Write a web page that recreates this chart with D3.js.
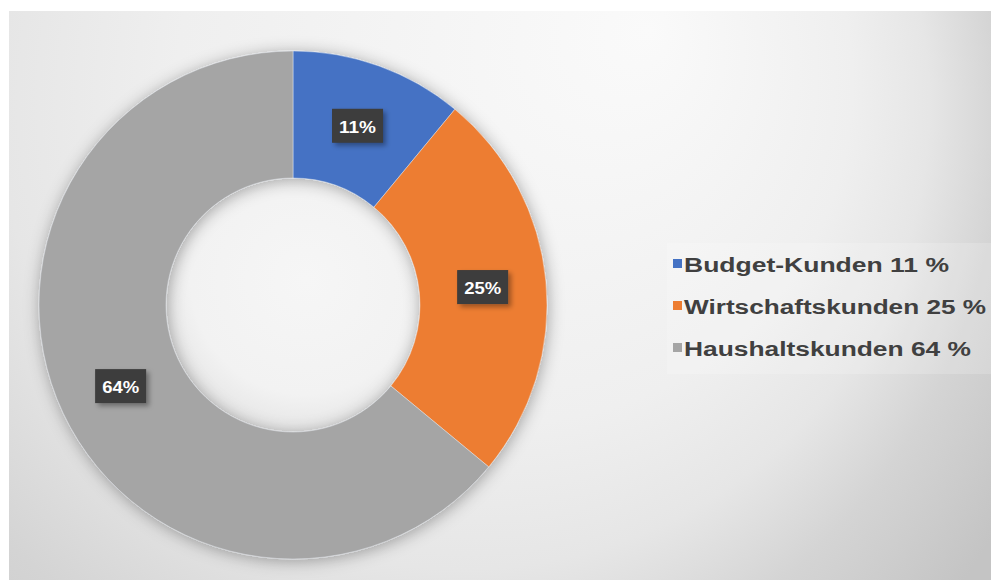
<!DOCTYPE html>
<html>
<head>
<meta charset="utf-8">
<script src="https://cdn.jsdelivr.net/npm/d3@7"></script>
<style>
  html, body { margin: 0; padding: 0; background: #ffffff; }
  svg { display: block; }
</style>
</head>
<body>
<svg id="chart" width="991" height="580"></svg>
<script>
// Customer segments and their share in percent
const categories = ["Budget-Kunden", "Wirtschaftskunden", "Haushaltskunden"];
const shares = [11, 25, 64];
const sliceColors = ["#4472c4", "#ed7d31", "#a5a5a5"];

const W = 991, H = 580;
const svg = d3.select("#chart");
const defs = svg.append("defs");

// Plot-area background: soft radial light, brightest near the upper middle
const bg = defs.append("radialGradient")
  .attr("id", "bgGrad")
  .attr("gradientUnits", "userSpaceOnUse")
  .attr("cx", 350).attr("cy", 150).attr("r", 750)
  .attr("fx", 650).attr("fy", 30);
[[0, "#fafafa"], [0.45, "#efefef"], [0.62, "#e6e6e6"], [0.78, "#d4d4d4"], [1, "#c4c4c4"]]
  .forEach(([o, c]) => bg.append("stop").attr("offset", o).attr("stop-color", c));

// Centre of the ring
const hole = defs.append("radialGradient").attr("id", "holeGrad")
  .attr("cx", "0.55").attr("cy", "0.4").attr("r", "0.6");
[[0, "#f6f6f6"], [0.75, "#f2f2f2"], [1, "#e6e6e6"]]
  .forEach(([o, c]) => hole.append("stop").attr("offset", o).attr("stop-color", c));

// Soft glow around the ring
const glow = defs.append("filter").attr("id", "ringShadow")
  .attr("x", "-20%").attr("y", "-20%").attr("width", "140%").attr("height", "140%");
glow.append("feDropShadow").attr("dx", 1).attr("dy", 2)
  .attr("stdDeviation", 8).attr("flood-color", "#000").attr("flood-opacity", 0.33);

// Shadow under the value boxes
const boxShadow = defs.append("filter").attr("id", "boxShadow")
  .attr("x", "-30%").attr("y", "-30%").attr("width", "170%").attr("height", "180%");
boxShadow.append("feDropShadow").attr("dx", 3).attr("dy", 3)
  .attr("stdDeviation", 2.5).attr("flood-color", "#000").attr("flood-opacity", 0.35);

svg.append("rect")
  .attr("x", 9).attr("y", 11).attr("width", W - 9).attr("height", H - 11)
  .attr("fill", "url(#bgGrad)");

// Donut
const cx = 293, cy = 305, rOuter = 254, rInner = 127;
const pie = d3.pie().sort(null).value(d => d.value);
const arcs = pie(categories.map((c, i) => ({ name: c, value: shares[i], color: sliceColors[i] })));
const arc = d3.arc().innerRadius(rInner).outerRadius(rOuter);
const labelArc = d3.arc().innerRadius((rInner + rOuter) / 2).outerRadius((rInner + rOuter) / 2);

const g = svg.append("g").attr("transform", `translate(${cx},${cy})`);

g.append("circle").attr("r", rInner + 1).attr("fill", "url(#holeGrad)");

g.append("g").attr("filter", "url(#ringShadow)")
  .selectAll("path").data(arcs).join("path")
  .attr("d", arc)
  .attr("fill", d => d.data.color)
  .attr("stroke", "#e9eef5")
  .attr("stroke-opacity", 0.45)
  .attr("stroke-width", 1);

// Value boxes
const labels = g.selectAll("g.lbl").data(arcs).join("g")
  .attr("class", "lbl")
  .attr("transform", d => `translate(${labelArc.centroid(d)})`);

labels.append("rect")
  .attr("x", -25.5).attr("y", -17).attr("width", 51).attr("height", 34)
  .attr("fill", "#3c3c3c")
  .attr("filter", "url(#boxShadow)");

labels.append("text")
  .attr("text-anchor", "middle")
  .attr("y", 7)
  .attr("font-family", "Liberation Sans, Arial, sans-serif")
  .attr("font-weight", "bold")
  .attr("font-size", 17)
  .attr("fill", "#ffffff")
  .attr("textLength", 37)
  .attr("lengthAdjust", "spacingAndGlyphs")
  .text(d => `${d.data.value}%`);

// Legend
const legendX = 667, legendY = 243;
svg.append("rect")
  .attr("x", legendX).attr("y", legendY).attr("width", W - legendX).attr("height", 131)
  .attr("fill", "#ffffff").attr("fill-opacity", 0.18);

const legendWidths = [265, 302, 287];
const rowY = d3.scalePoint().domain(categories).range([264, 348]);

const rows = svg.selectAll("g.leg").data(arcs).join("g")
  .attr("class", "leg")
  .attr("transform", d => `translate(${legendX + 6},${rowY(d.data.name)})`);

rows.append("rect")
  .attr("x", 0).attr("y", -5).attr("width", 9).attr("height", 9)
  .attr("fill", d => d.data.color);

rows.append("text")
  .attr("x", 11).attr("y", 7.5)
  .attr("font-family", "Liberation Sans, Arial, sans-serif")
  .attr("font-weight", "bold")
  .attr("font-size", 20)
  .attr("fill", "#404040")
  .attr("textLength", (d, i) => legendWidths[i])
  .attr("lengthAdjust", "spacingAndGlyphs")
  .text(d => `${d.data.name} ${d.data.value} %`);
</script>
</body>
</html>
